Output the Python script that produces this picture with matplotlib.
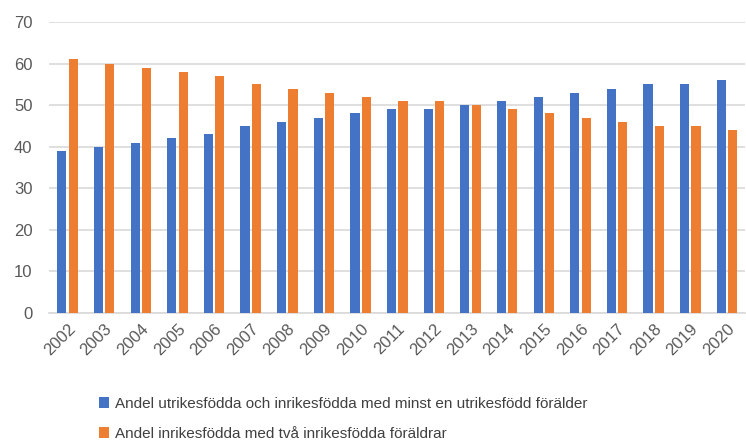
import numpy as np
import matplotlib.pyplot as plt

plt.rcParams['font.family'] = ['Liberation Sans', 'DejaVu Sans']

# Data
years = [str(y) for y in range(2002, 2021)]
utrikes = [39, 40, 41, 42, 43, 45, 46, 47, 48, 49, 49, 50, 51, 52, 53, 54, 55, 55, 56]
inrikes = [61, 60, 59, 58, 57, 55, 54, 53, 52, 51, 51, 50, 49, 48, 47, 46, 45, 45, 44]

label_blue = 'Andel utrikesfödda och inrikesfödda med minst en utrikesfödd förälder'
label_orange = 'Andel inrikesfödda med två inrikesfödda föräldrar'

blue = '#4472C4'
orange = '#ED7D31'

fig = plt.figure(figsize=(7.46, 4.45), dpi=100)
ax = fig.add_axes([0.066, 0.2966, 0.933, 0.654])

x = np.arange(len(years))
w = 0.25
ax.bar(x - w / 2 - 0.03, utrikes, w, color=blue, label=label_blue, zorder=3)
ax.bar(x + w / 2 + 0.03, inrikes, w, color=orange, label=label_orange, zorder=3)

ax.set_xlim(-0.5, len(years) - 0.5)
ax.set_ylim(0, 70)
ax.set_yticks(range(0, 71, 10))
ax.yaxis.grid(True, color='#d9d9d9', linewidth=1.2, zorder=0)
ax.set_axisbelow(True)
for s in ['top', 'right', 'left']:
    ax.spines[s].set_visible(False)
ax.spines['bottom'].set_color('#d9d9d9')
ax.spines['bottom'].set_linewidth(1.2)

ax.set_xticks(x)
ax.set_xticklabels(years, rotation=45, ha='right', rotation_mode='anchor')
ax.tick_params(axis='both', length=0, labelsize=12, colors='#595959')
ax.tick_params(axis='y', pad=12)
ax.tick_params(axis='x', pad=6)

fig.legend(loc='upper left', bbox_to_anchor=(0.124, 0.122),
           frameon=False, fontsize=11, handlelength=0.7, handleheight=0.7,
           handletextpad=0.35, labelspacing=1.05, labelcolor='#404040',
           borderaxespad=0)

fig.savefig('out.png', dpi=100)
